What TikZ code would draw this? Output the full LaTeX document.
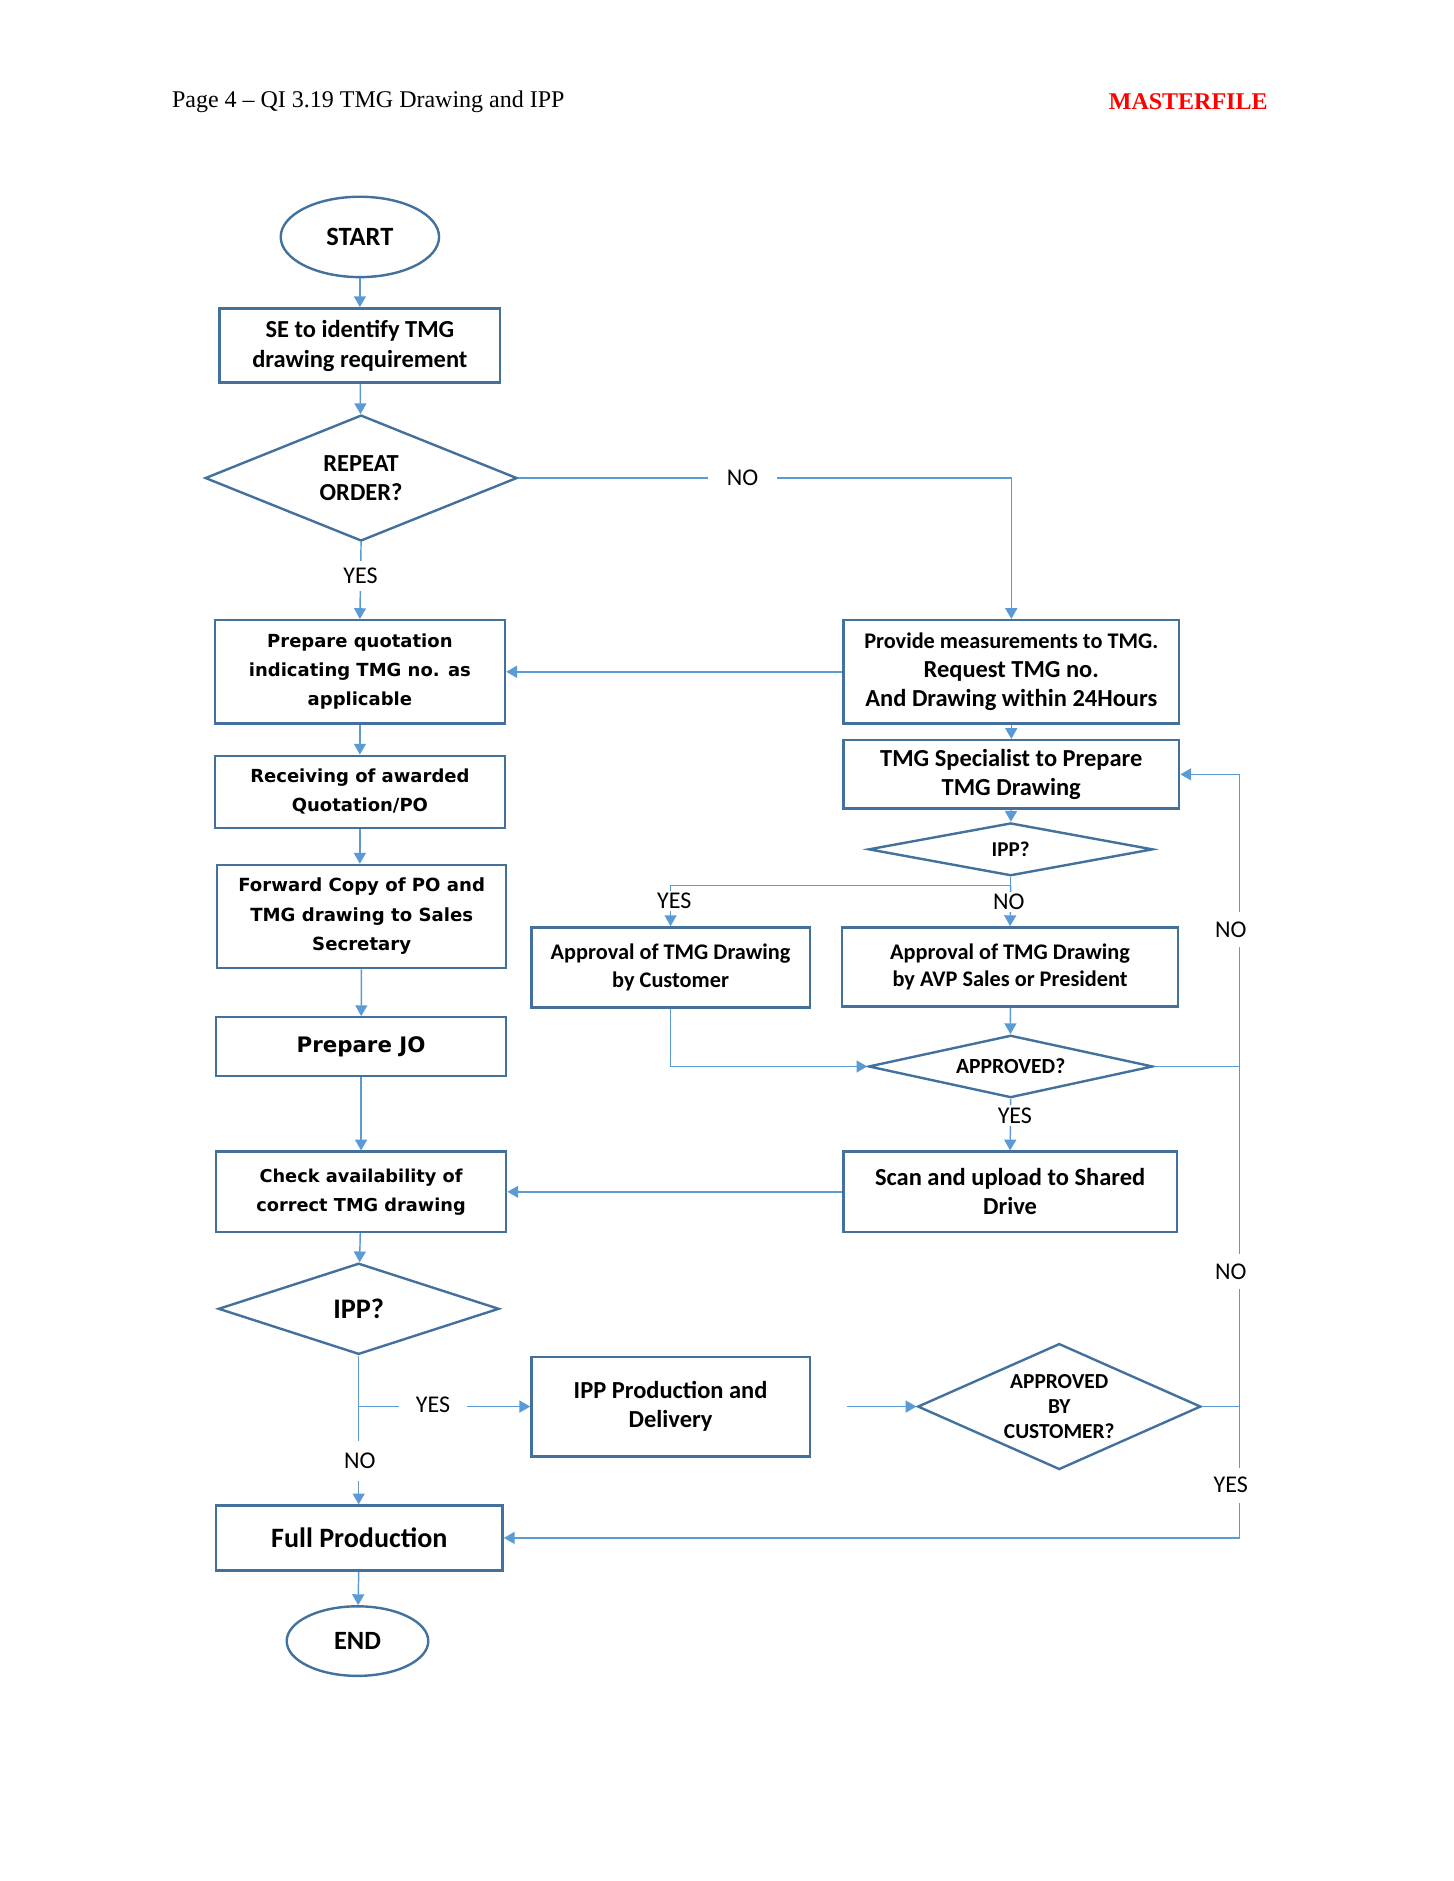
\documentclass[tikz,border=0pt]{standalone}
\usepackage{fontspec}
\setmainfont{Carlito}
\newfontfamily\verd{DejaVu Sans}
\newfontfamily\tnr{Liberation Serif}
\usetikzlibrary{shapes.geometric,arrows.meta,calc}
\definecolor{boxc}{HTML}{41719C}
\definecolor{linec}{HTML}{5B9BD5}
\definecolor{mred}{HTML}{FF0000}
\tikzset{
 pbox/.style={draw=boxc, line width=1pt, rectangle, align=center, inner sep=0pt, font=\bfseries\fontsize{10.2}{12}\selectfont},
 vbox/.style={pbox, font=\verd\bfseries\fontsize{7.5}{12}\selectfont},
 dbox/.style={draw=boxc, line width=1pt, diamond, align=center, inner sep=0pt, font=\bfseries\fontsize{10.2}{12}\selectfont},
 ebox/.style={draw=boxc, line width=1pt, ellipse, inner sep=0pt, font=\bfseries\fontsize{11}{13}\selectfont},
 conn/.style={draw=linec, line width=0.6pt, -{Triangle[width=5pt,length=4.5pt]}},
 plainln/.style={draw=linec, line width=0.6pt},
 lbl/.style={fill=white, inner xsep=2pt, inner ysep=3pt, font=\fontsize{10}{12}\selectfont},
}
\begin{document}
\begin{tikzpicture}[x=0.5pt,y=-0.5pt]
\useasboundingbox (0,0) rectangle (1212,1568);
\fill[white] (0,0) rectangle (1212,1568);
% header
\node[anchor=west, inner sep=0pt, font=\tnr\fontsize{10}{12}\selectfont] (hdr) at (143,85) {Page 4 – QI 3.19 TMG Drawing and IPP};
\node[anchor=east, inner sep=0pt, text=mred, font=\tnr\bfseries\fontsize{10}{12}\selectfont] (mf) at (1057,85) {MASTERFILE};

% left column
\node[ebox, minimum width=66pt, minimum height=33.5pt] (start) at (300,197.5) {START};
\node[pbox, minimum width=117pt, minimum height=31pt, font=\bfseries\fontsize{10.2}{12.5}\selectfont] (se) at (300,288) {\rule{0pt}{2pt}SE to identify TMG\\drawing requirement};
\node[dbox, aspect=2.48, minimum width=130pt, minimum height=52.5pt] (rep) at (301,398.5) {REPEAT\\ORDER?};
\node[vbox, minimum width=121pt, minimum height=43pt] (quote) at (300,560) {Prepare quotation\\indicating TMG no. as\\applicable};
\node[vbox, minimum width=121pt, minimum height=30pt] (recv) at (300,660) {Receiving of awarded\\Quotation/PO};
\node[vbox, minimum width=120.5pt, minimum height=43pt, font=\verd\bfseries\fontsize{7.55}{12.3}\selectfont] (fwd) at (301.5,764) {Forward Copy of PO and\\TMG drawing to Sales\\Secretary};
\node[vbox, minimum width=121pt, minimum height=24.5pt, font=\verd\bfseries\fontsize{8.9}{12}\selectfont] (jo) at (301,872.5) {Prepare JO};
\node[vbox, minimum width=121pt, minimum height=33.5pt, font=\verd\bfseries\fontsize{7.4}{12}\selectfont] (check) at (301,993.5) {Check availability of\\correct TMG drawing};
\node[dbox, aspect=3.08, minimum width=117pt, minimum height=38pt, font=\bfseries\fontsize{11.8}{14}\selectfont] (ipp2) at (299,1091) {IPP?};
\node[pbox, minimum width=119.5pt, minimum height=27pt, font=\bfseries\fontsize{11.7}{14}\selectfont] (full) at (299.5,1282) {Full Production};
\node[ebox, minimum width=59pt, minimum height=29pt] (end) at (298,1368) {END};

% right column
\node[pbox, minimum width=140pt, minimum height=43pt] (prov) at (843,560) {{\fontsize{9.3}{12}\selectfont Provide measurements to TMG.}\\Request TMG no.\\And Drawing within 24Hours};
\node[pbox, minimum width=140pt, minimum height=28.5pt] (spec) at (843,645.5) {TMG Specialist to Prepare\\TMG Drawing};
\node[dbox, aspect=5.4, minimum width=118.5pt, minimum height=22pt, font=\bfseries\fontsize{8.8}{10}\selectfont] (ipp1) at (842.5,708) {IPP?};
\node[pbox, minimum width=116pt, minimum height=33.5pt, font=\bfseries\fontsize{9.3}{11.5}\selectfont] (appc) at (559,806.5) {Approval of TMG Drawing\\by Customer};
\node[pbox, minimum width=140pt, minimum height=33pt, font=\bfseries\fontsize{9.3}{11.5}\selectfont] (appv) at (842,806) {Approval of TMG Drawing\\by AVP Sales or President};
\node[dbox, aspect=4.56, minimum width=118.5pt, minimum height=26pt, font=\bfseries\fontsize{9}{11}\selectfont] (appr) at (842.5,889) {APPROVED?};
\node[pbox, minimum width=139pt, minimum height=33.5pt] (scan) at (842,993.5) {Scan and upload to Shared\\Drive};
\node[pbox, minimum width=116pt, minimum height=41.5pt] (ippp) at (559,1172.5) {IPP Production and\\Delivery};
\node[dbox, aspect=2.25, minimum width=118pt, minimum height=52.5pt, font=\bfseries\fontsize{8.9}{10.5}\selectfont] (appcu) at (883,1172.5) {APPROVED\\BY\\CUSTOMER?};

\coordinate (rail) at (1033,0);
\coordinate (fork) at (842.5,738);

% connectors left column
\draw[conn] (start) -- (se);
\draw[conn] (se) -- (rep);
\draw[conn] (rep.south) -- (quote.north) node[lbl, pos=0.44] (ly1) {YES};
\draw[conn] (rep.east) -| (prov.north);
\node[lbl, inner xsep=8pt] (ln1) at (619,398.5) {NO};
\draw[conn] (prov.west) -- (quote.east);
\draw[conn] (quote) -- (recv);
\draw[conn] (recv.south) -- (recv.south |- fwd.north);
\draw[conn] (fwd) -- (jo);
\draw[conn] (jo) -- (check);
\draw[conn] (check) -- (ipp2);
\draw[conn] (ipp2.south) -- (ipp2.south |- full.north);
\node[lbl, inner ysep=5pt] (ln2) at (300,1218) {NO};
\draw[conn] (ipp2.south |- ippp.west) -- (ippp.west);
\node[lbl, inner xsep=7pt] (ly2) at (361,1171) {YES};
\draw[conn, shorten <=15pt] (ippp.east) -- (appcu.west);
\draw[conn] (full) -- (end);

% connectors right column
\draw[conn] (prov) -- (spec);
\draw[conn] (spec) -- (ipp1);
\draw[plainln] (ipp1.south) -- (fork);
\draw[conn] (fork) -| (appc.north);
\draw[conn] (fork) -- (appv.north);
\node[lbl, inner ysep=1pt] (ly3) at (562,751) {YES};
\node[lbl, inner ysep=1pt] (ln3) at (841,752) {NO};
\draw[conn] (appv) -- (appr);
\draw[conn] (appc.south) |- (appr.west);
\draw[conn] (appr.south) -- (scan.north);
\node[lbl, inner ysep=1pt] (ly4) at (846,930) {YES};
\draw[conn] (scan.west) -- (check.east);

% right rail
\draw[conn] (appcu.east) -- (appcu.east -| rail) |- (spec.east);
\draw[plainln] (appr.east) -- (appr.east -| rail);
\draw[conn] (appcu.east -| rail) |- (full.east);
\node[lbl, inner ysep=4pt] (ln4) at (1026,775) {NO};
\node[lbl, inner ysep=4pt] (ln5) at (1026,1060) {NO};
\node[lbl, inner ysep=4pt] (ly5) at (1026,1238) {YES};
\end{tikzpicture}
\end{document}
